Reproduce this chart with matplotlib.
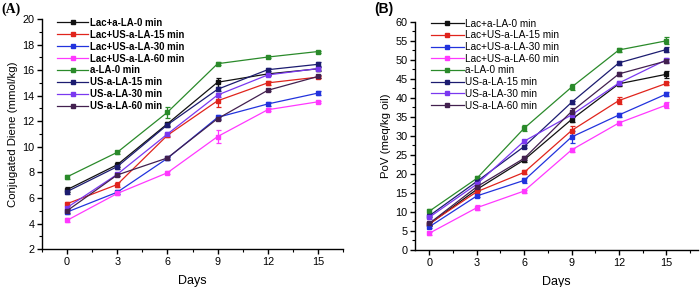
import matplotlib
matplotlib.use("Agg")
import matplotlib.pyplot as plt
import numpy as np
from matplotlib.ticker import MultipleLocator

plt.rcParams['font.family'] = ['Liberation Sans', 'DejaVu Sans']

days = [0, 3, 6, 9, 12, 15]
labels = ["Lac+a-LA-0 min", "Lac+US-a-LA-15 min", "Lac+US-a-LA-30 min", "Lac+US-a-LA-60 min",
          "a-LA-0 min", "US-a-LA-15 min", "US-a-LA-30 min", "US-a-LA-60 min"]
colors = ["#111111", "#e0241c", "#2233dd", "#ff38ff", "#2a8a2a", "#1c1c70", "#7a38f0", "#42204f"]

# Panel A: Conjugated diene (mmol/kg)
cd_lac_0 = [6.65, 8.6, 11.8, 15.05, 15.7, 16.1]
cd_lac_us15 = [5.55, 7.05, 10.9, 13.6, 15.0, 15.45]
cd_lac_us30 = [4.9, 6.45, 9.1, 12.3, 13.35, 14.2]
cd_lac_us60 = [4.25, 6.35, 7.97, 10.8, 12.9, 13.52]
cd_ala_0 = [7.65, 9.57, 12.7, 16.5, 17.02, 17.45]
cd_us15 = [6.5, 8.45, 11.72, 14.5, 16.03, 16.45]
cd_us30 = [5.25, 7.85, 11.0, 14.05, 15.62, 16.12]
cd_us60 = [5.0, 7.8, 9.13, 12.2, 14.42, 15.5]
cd_err = [
    [0.2, 0.2, 0.15, 0.35, 0.1, 0.15],
    [0.1, 0.2, 0.15, 0.5, 0.15, 0.1],
    [0.15, 0.15, 0.1, 0.15, 0.15, 0.15],
    [0.15, 0.1, 0.1, 0.5, 0.1, 0.1],
    [0.15, 0.12, 0.45, 0.12, 0.08, 0.08],
    [0.2, 0.2, 0.15, 0.15, 0.12, 0.15],
    [0.15, 0.12, 0.12, 0.12, 0.1, 0.12],
    [0.15, 0.12, 0.12, 0.12, 0.08, 0.1],
]

# Panel B: PoV (meq/kg oil)
pv_lac_0 = [6.8, 15.9, 23.7, 34.3, 43.7, 46.2]
pv_lac_us15 = [6.9, 15.3, 20.4, 31.4, 39.3, 43.8]
pv_lac_us30 = [6.1, 14.2, 18.3, 29.7, 35.5, 41.0]
pv_lac_us60 = [4.4, 11.1, 15.5, 26.3, 33.4, 38.1]
pv_ala_0 = [10.2, 18.8, 32.0, 42.8, 52.6, 55.0]
pv_us15 = [9.0, 18.0, 27.2, 38.8, 49.2, 52.7]
pv_us30 = [8.6, 17.3, 28.6, 35.5, 43.9, 50.0]
pv_us60 = [7.0, 16.6, 24.1, 36.4, 46.3, 49.7]
pv_err = [
    [0.5, 0.5, 0.6, 0.6, 0.5, 0.9],
    [0.4, 0.5, 0.5, 1.2, 0.9, 0.5],
    [0.4, 0.4, 0.7, 1.6, 0.4, 0.5],
    [0.4, 0.6, 0.4, 0.6, 0.6, 0.8],
    [0.5, 0.7, 0.8, 0.8, 0.5, 0.9],
    [0.4, 0.5, 0.5, 0.5, 0.5, 0.6],
    [0.4, 0.5, 0.4, 0.5, 0.5, 0.5],
    [0.4, 0.5, 0.5, 0.9, 0.6, 0.6],
]

cd_series = [cd_lac_0, cd_lac_us15, cd_lac_us30, cd_lac_us60, cd_ala_0, cd_us15, cd_us30, cd_us60]
pv_series = [pv_lac_0, pv_lac_us15, pv_lac_us30, pv_lac_us60, pv_ala_0, pv_us15, pv_us30, pv_us60]

fig = plt.figure(figsize=(7.0, 2.87), dpi=100)
axA = fig.add_axes([0.06, 0.132, 0.43, 0.802])
axB = fig.add_axes([0.593, 0.129, 0.404, 0.795])


def style(ax):
    for s in ['top', 'right']:
        ax.spines[s].set_visible(False)
    for s in ['left', 'bottom']:
        ax.spines[s].set_linewidth(1.0)
    ax.tick_params(which='major', direction='out', length=3.5, width=1.0, labelsize=7.8, pad=2)
    ax.tick_params(which='minor', direction='out', length=2, width=0.8)
    ax.xaxis.set_major_locator(MultipleLocator(3))
    ax.xaxis.set_minor_locator(MultipleLocator(1.5))


def draw(ax, series, errs):
    handles = []
    for vals, err, c, lab in zip(series, errs, colors, labels):
        cont = ax.errorbar(days, vals, yerr=err, color=c, lw=0.9, marker='s', ms=2.2,
                           capsize=1.8, elinewidth=0.9, capthick=0.9, label=lab)
        handles.append(cont[0])
    return handles


hA = draw(axA, cd_series, cd_err)
style(axA)
axA.set_xlim(-1.5, 16.5)
axA.set_ylim(2, 20)
axA.yaxis.set_major_locator(MultipleLocator(2))
axA.yaxis.set_minor_locator(MultipleLocator(1))
axA.set_xlabel("Days", fontsize=9, labelpad=6)
axA.set_ylabel("Conjugated Diene (mmol/kg)", fontsize=8.2, labelpad=3)
legA = axA.legend(hA, labels, loc='upper left', bbox_to_anchor=(0.03, 1.03), frameon=False, fontsize=6.9,
                  handlelength=3.3, handletextpad=0.15, labelspacing=0.2, borderaxespad=0.2)
for t in legA.get_texts():
    t.set_fontweight('bold')
fig.text(0.002, 0.955, "(A)", fontsize=10, fontweight='bold', family=['Liberation Serif', 'DejaVu Serif'])

hB = draw(axB, pv_series, pv_err)
style(axB)
axB.set_xlim(-0.9, 17.0)
axB.set_ylim(0, 60)
axB.yaxis.set_major_locator(MultipleLocator(5))
axB.yaxis.set_minor_locator(MultipleLocator(2.5))
axB.set_xlabel("Days", fontsize=9, labelpad=6)
axB.set_ylabel("PoV (meq/kg oil)", fontsize=8.2, labelpad=3)
legB = axB.legend(hB, labels, loc='upper left', bbox_to_anchor=(0.035, 1.04), frameon=False, fontsize=7.2,
                  handlelength=3.3, handletextpad=0.15, labelspacing=0.17, borderaxespad=0.2)
fig.text(0.535, 0.955, "(B)", fontsize=10, fontweight='bold')

fig.savefig("out.png", dpi=100)
